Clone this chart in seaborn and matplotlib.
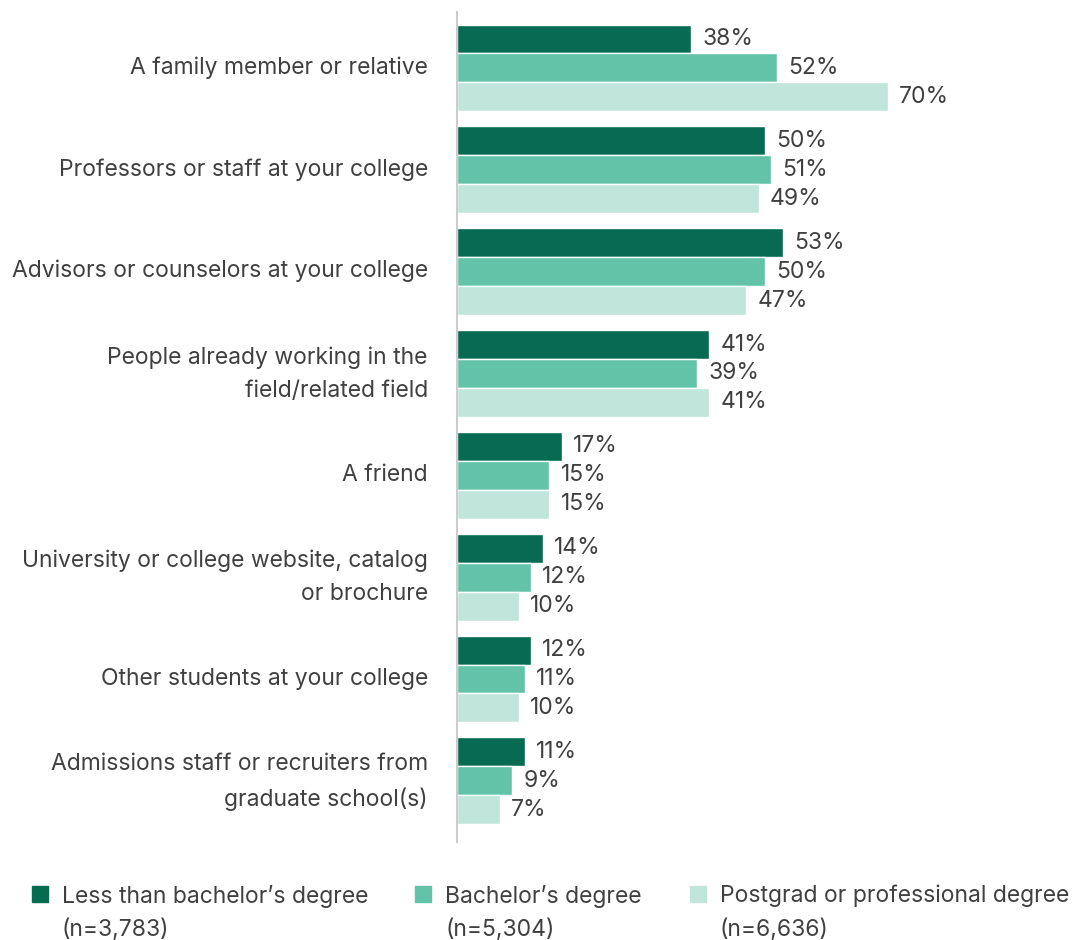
import matplotlib
matplotlib.use("Agg")
import matplotlib.pyplot as plt
from matplotlib.patches import Rectangle
from matplotlib.transforms import ScaledTranslation
import seaborn as sns
import pandas as pd

sources = [
    "A family member or relative",
    "Professors or staff at your college",
    "Advisors or counselors at your college",
    "People already working in the\nfield/related field",
    "A friend",
    "University or college website, catalog\nor brochure",
    "Other students at your college",
    "Admissions staff or recruiters from\ngraduate school(s)",
]
groups = [
    "Less than bachelor’s degree",
    "Bachelor’s degree",
    "Postgrad or professional degree",
]
group_n = ["(n=3,783)", "(n=5,304)", "(n=6,636)"]
less_than_ba = [38, 50, 53, 41, 17, 14, 12, 11]
bachelors = [52, 51, 50, 39, 15, 12, 11, 9]
postgrad = [70, 49, 47, 41, 15, 10, 10, 7]
colors = ["#076b52", "#63c3a8", "#c0e5da"]

rows = []
for g, vals in zip(groups, [less_than_ba, bachelors, postgrad]):
    for s, v in zip(sources, vals):
        rows.append({"source": s, "group": g, "pct": v})
df = pd.DataFrame(rows)

sns.set_theme(style="white")
plt.rcParams["font.family"] = ["Inter", "DejaVu Sans"]
text_color = "#404040"
fs = 16.5

fig = plt.figure(figsize=(10.72, 9.4), dpi=100)
ax = fig.add_axes([0.4263, 0.1043, 0.5743, 0.8830])

sns.barplot(
    data=df, y="source", x="pct", hue="group", orient="h",
    palette=colors, hue_order=groups, order=sources,
    width=0.853, saturation=1, ax=ax, legend=False, errorbar=None,
)

for cont in ax.containers:
    ax.bar_label(cont, fmt="%d%%", padding=8, fontsize=fs, color=text_color)

ax.set_xlim(0, 100)
ax.set_ylim(7.6, -0.55)
ax.set_xlabel("")
ax.set_ylabel("")
ax.set_xticks([])
ax.tick_params(axis="y", length=0, pad=21, labelsize=fs, labelcolor=text_color)
for lbl in ax.get_yticklabels():
    lbl.set_horizontalalignment("right")
    lbl.set_multialignment("right")
    lbl.set_linespacing(1.65)
    up = 7.5 if "\n" in lbl.get_text() else 3
    lbl.set_transform(lbl.get_transform()
                      + ScaledTranslation(0, up / 100, fig.dpi_scale_trans))

for side in ["top", "right", "bottom"]:
    ax.spines[side].set_visible(False)
ax.spines["left"].set_color("#cccccc")
ax.spines["left"].set_linewidth(1.5)

# Legend drawn along the bottom of the figure
W, H = 1072, 940
legend_x = [32, 415, 690]
for x, g, n, c in zip(legend_x, groups, group_n, colors):
    fig.patches.append(Rectangle((x / W, 1 - 902 / H), 16 / W, 16 / H,
                                 transform=fig.transFigure, color=c))
    fig.text((x + 30) / W, 1 - 896 / H, g, fontsize=fs, color=text_color,
             va="center", ha="left")
    fig.text((x + 30) / W, 1 - 930 / H, n, fontsize=fs, color=text_color,
             va="center", ha="left")

fig.savefig("out.png", dpi=100, facecolor="white")
